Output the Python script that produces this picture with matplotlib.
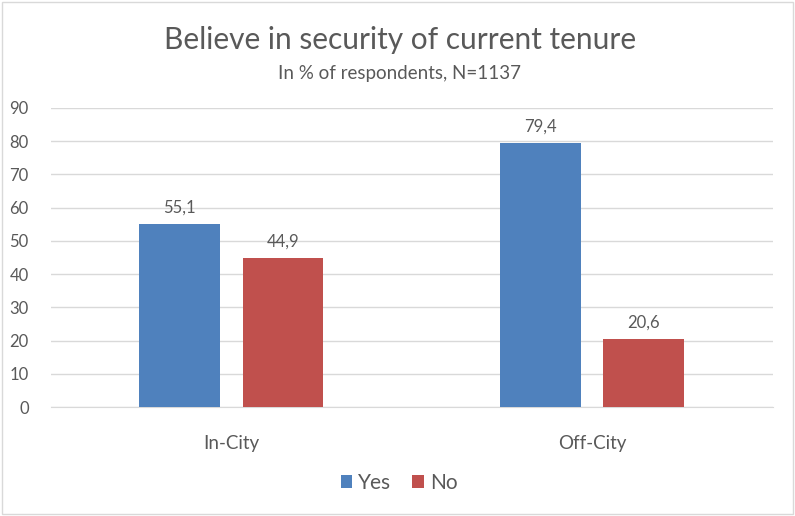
import matplotlib.pyplot as plt
import numpy as np
from matplotlib.patches import Rectangle

categories = ["In-City", "Off-City"]
yes_vals = [55.1, 79.4]
no_vals = [44.9, 20.6]
series_names = ["Yes", "No"]
yticks = [0, 10, 20, 30, 40, 50, 60, 70, 80, 90]

plt.rcParams['font.family'] = ['Lato', 'DejaVu Sans']
gray = "#595959"

fig = plt.figure(figsize=(7.95, 5.16), dpi=100)
ax = fig.add_axes([0.064, 0.211, 0.908, 0.58])

x = np.arange(len(categories))
w = 0.224
off = 0.143
b1 = ax.bar(x - off, yes_vals, w, color="#4F81BD", label=series_names[0], zorder=3)
b2 = ax.bar(x + off, no_vals, w, color="#C0504D", label=series_names[1], zorder=3)

for bars in (b1, b2):
    for b in bars:
        h = b.get_height()
        ax.annotate(f"{h:.1f}".replace(".", ","), (b.get_x() + b.get_width() / 2, h),
                    xytext=(0, 6), textcoords="offset points", ha="center", va="bottom",
                    fontsize=12, color=gray)

ax.set_xlim(-0.5, 1.5)
ax.set_ylim(0, 90)
ax.set_yticks(yticks)
ax.set_xticks(x)
ax.set_xticklabels(categories, fontsize=13.5, color=gray)
ax.tick_params(axis="x", length=0, pad=20)
ax.tick_params(axis="y", length=0, pad=16, labelsize=12, labelcolor=gray)
ax.grid(axis="y", color="#D9D9D9", linewidth=1, zorder=0)
for s in ["top", "right", "left"]:
    ax.spines[s].set_visible(False)
ax.spines["bottom"].set_color("#D9D9D9")

fig.text(0.503, 0.922, "Believe in security of current tenure", ha="center", va="center",
         fontsize=21.5, color=gray)
fig.text(0.503, 0.858, "In % of respondents, N=1137", ha="center", va="center",
         fontsize=13.5, color=gray)

fig.legend(loc="center", bbox_to_anchor=(0.502, 0.064), ncol=2, frameon=False,
           fontsize=15, handlelength=0.55, handleheight=0.55, handletextpad=0.3,
           columnspacing=1.0, labelcolor=gray)

fig.patches.append(Rectangle((0.002, 0.003), 0.996, 0.994, transform=fig.transFigure,
                             fill=False, edgecolor="#D9D9D9", linewidth=1))

fig.savefig("out.png", dpi=100)
